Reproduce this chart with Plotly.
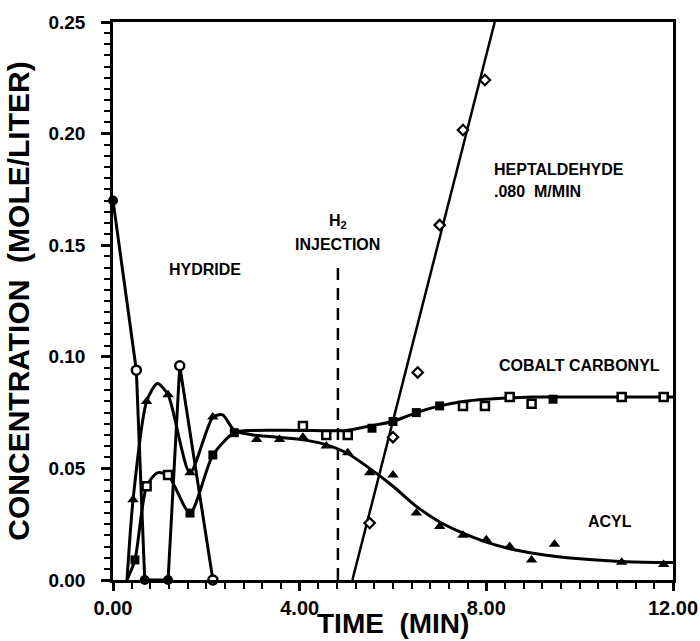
import plotly.graph_objects as go

# ---------------- data ----------------
# Hydride (open circles, straight segments)
hyd_line_t = [0.0, 0.5, 0.68, 1.18, 1.43, 2.14]
hyd_line_c = [0.170, 0.094, 0.0, 0.0, 0.096, 0.0]
hyd_open_t = [0.5, 1.43, 2.14]
hyd_open_c = [0.094, 0.096, 0.0]
hyd_fill_t = [0.0, 0.68, 1.18]
hyd_fill_c = [0.170, 0.0, 0.0]

# Acyl (filled triangles)
acyl_t = [0.43, 0.72, 1.18, 1.65, 2.14, 3.08, 3.57, 4.07, 4.57, 5.03, 5.5, 6.0,
          6.5, 7.0, 7.5, 8.0, 8.5, 8.97, 9.46, 10.9, 11.8]
acyl_c = [0.036, 0.080, 0.083, 0.048, 0.073, 0.063, 0.063, 0.064, 0.060, 0.057, 0.048, 0.047,
          0.030, 0.024, 0.020, 0.018, 0.015, 0.009, 0.016, 0.008, 0.007]
acyl_curve_t = [0.3, 0.43, 0.72, 0.95, 1.18, 1.65, 2.14, 2.35, 2.6, 3.0, 4.0, 4.5, 5.0, 5.5,
                6.0, 6.5, 7.0, 7.5, 8.0, 8.5, 9.0, 9.5, 10.0, 11.0, 12.0]
acyl_curve_c = [0.0, 0.036, 0.080, 0.088, 0.083, 0.048, 0.073, 0.074, 0.067, 0.065, 0.063,
                0.061, 0.057, 0.050, 0.042, 0.033, 0.026, 0.021, 0.017, 0.014, 0.012,
                0.0105, 0.0095, 0.0082, 0.0078]

# Cobalt carbonyl (squares; filled and open runs)
cob_fill_t = [0.47, 1.65, 2.14, 2.6, 5.55, 6.0, 6.5, 7.0, 9.43]
cob_fill_c = [0.009, 0.030, 0.056, 0.066, 0.068, 0.071, 0.075, 0.078, 0.081]
cob_open_t = [0.72, 1.18, 4.07, 4.57, 5.03, 7.5, 7.97, 8.5, 8.97, 10.9, 11.8]
cob_open_c = [0.042, 0.047, 0.069, 0.065, 0.065, 0.078, 0.078, 0.082, 0.079, 0.082, 0.082]
cob_curve_t = [0.3, 0.47, 0.72, 0.95, 1.18, 1.65, 2.14, 2.6, 3.0, 4.0, 5.0, 5.5, 6.0, 6.5,
               7.0, 7.5, 8.0, 9.0, 10.0, 12.0]
cob_curve_c = [0.0, 0.009, 0.042, 0.048, 0.047, 0.030, 0.056, 0.066, 0.067, 0.067, 0.067,
               0.069, 0.071, 0.075, 0.078, 0.080, 0.081, 0.082, 0.082, 0.082]

# Heptaldehyde (open diamonds, fitted straight line .080 M/MIN)
hept_t = [5.5, 6.0, 6.53, 7.0, 7.5, 7.97]
hept_c = [0.0255, 0.064, 0.093, 0.159, 0.2016, 0.224]
hept_fit_t = [5.13, 8.18]
hept_fit_c = [0.0, 0.25]

# H2 injection marker
inj_t = [4.82, 4.82]
inj_c = [0.0, 0.143]

x_ticks = [0, 4, 8, 12]
y_ticks = [0.0, 0.05, 0.10, 0.15, 0.20, 0.25]

FONT = "Liberation Sans, Arial, sans-serif"
BLACK = "black"

fig = go.Figure()

# lines
fig.add_trace(go.Scatter(x=hyd_line_t, y=hyd_line_c, mode="lines",
                         line=dict(color=BLACK, width=3), cliponaxis=False))
fig.add_trace(go.Scatter(x=acyl_curve_t, y=acyl_curve_c, mode="lines",
                         line=dict(color=BLACK, width=3, shape="spline", smoothing=0.7)))
fig.add_trace(go.Scatter(x=cob_curve_t, y=cob_curve_c, mode="lines",
                         line=dict(color=BLACK, width=3, shape="spline", smoothing=0.7)))
fig.add_trace(go.Scatter(x=hept_fit_t, y=hept_fit_c, mode="lines",
                         line=dict(color=BLACK, width=2.5)))
fig.add_trace(go.Scatter(x=inj_t, y=inj_c, mode="lines",
                         line=dict(color=BLACK, width=2.5, dash="12px,8px")))

# markers
fig.add_trace(go.Scatter(x=hyd_open_t, y=hyd_open_c, mode="markers", cliponaxis=False,
                         marker=dict(symbol="circle", size=9, color="white",
                                     line=dict(color=BLACK, width=2.5))))
fig.add_trace(go.Scatter(x=hyd_fill_t, y=hyd_fill_c, mode="markers", cliponaxis=False,
                         marker=dict(symbol="circle", size=10, color=BLACK)))
fig.add_trace(go.Scatter(x=acyl_t, y=acyl_c, mode="markers", cliponaxis=False,
                         marker=dict(symbol="triangle-up", size=10, color=BLACK)))
fig.add_trace(go.Scatter(x=cob_fill_t, y=cob_fill_c, mode="markers", cliponaxis=False,
                         marker=dict(symbol="square", size=9, color=BLACK)))
fig.add_trace(go.Scatter(x=cob_open_t, y=cob_open_c, mode="markers", cliponaxis=False,
                         marker=dict(symbol="square", size=8, color="white",
                                     line=dict(color=BLACK, width=2.5))))
fig.add_trace(go.Scatter(x=hept_t, y=hept_c, mode="markers", cliponaxis=False,
                         marker=dict(symbol="diamond", size=8, color="white",
                                     line=dict(color=BLACK, width=2.2))))

ann_font = dict(family=FONT, size=16, color=BLACK, weight="bold")
annotations = [
    dict(x=1.97, y=0.139, text="HYDRIDE"),
    dict(x=11.76, y=0.096, text="COBALT CARBONYL", xanchor="right"),
    dict(x=11.16, y=0.026, text="ACYL", xanchor="right"),
    dict(x=8.12, y=0.184, text="HEPTALDEHYDE", xanchor="left"),
    dict(x=8.12, y=0.174, text=".080  M/MIN", xanchor="left"),
    dict(x=4.82, y=0.1605, text="H<sub>2</sub>"),
    dict(x=4.82, y=0.1505, text="INJECTION"),
]
for a in annotations:
    a.setdefault("xanchor", "center")
    a.update(xref="x", yref="y", showarrow=False, font=ann_font, yanchor="middle")

# x-axis title placed explicitly below the tick labels
annotations.append(dict(x=0.5, y=-0.078, xref="paper", yref="paper", xanchor="center",
                        yanchor="middle", showarrow=False, text="TIME  (MIN)",
                        font=dict(family=FONT, size=28, color=BLACK, weight="bold")))

fig.update_layout(
    width=700, height=641,
    margin=dict(l=113, r=27, t=22, b=61),
    paper_bgcolor="white", plot_bgcolor="white",
    showlegend=False,
    annotations=annotations,
    font=dict(family=FONT, color=BLACK),
)
fig.update_xaxes(
    range=[0, 12], tickvals=x_ticks, tickformat=".2f",
    showgrid=False, zeroline=False, automargin=False,
    showline=True, linecolor=BLACK, linewidth=2.5, mirror=True,
    ticks="outside", ticklen=8, tickwidth=2.5, tickcolor=BLACK,
    minor=dict(dtick=0.4, ticks="outside", ticklen=6, tickwidth=2, tickcolor=BLACK, showgrid=False),
    tickfont=dict(family=FONT, size=20, color=BLACK, weight="bold"),
)
fig.update_yaxes(
    range=[0, 0.25], tickvals=y_ticks, tickformat=".2f",
    showgrid=False, zeroline=False, automargin=False,
    showline=True, linecolor=BLACK, linewidth=2.5, mirror=True,
    ticks="outside", ticklen=9, tickwidth=2.5, tickcolor=BLACK,
    minor=dict(dtick=0.005, ticks="outside", ticklen=6, tickwidth=2, tickcolor=BLACK, showgrid=False),
    tickfont=dict(family=FONT, size=19, color=BLACK, weight="bold"),
    ticklabelstandoff=12,
    title=dict(text="CONCENTRATION  (MOLE/LITER)", font=dict(family=FONT, size=30, color=BLACK, weight="bold"), standoff=10),
)

fig.write_html("out.html")
